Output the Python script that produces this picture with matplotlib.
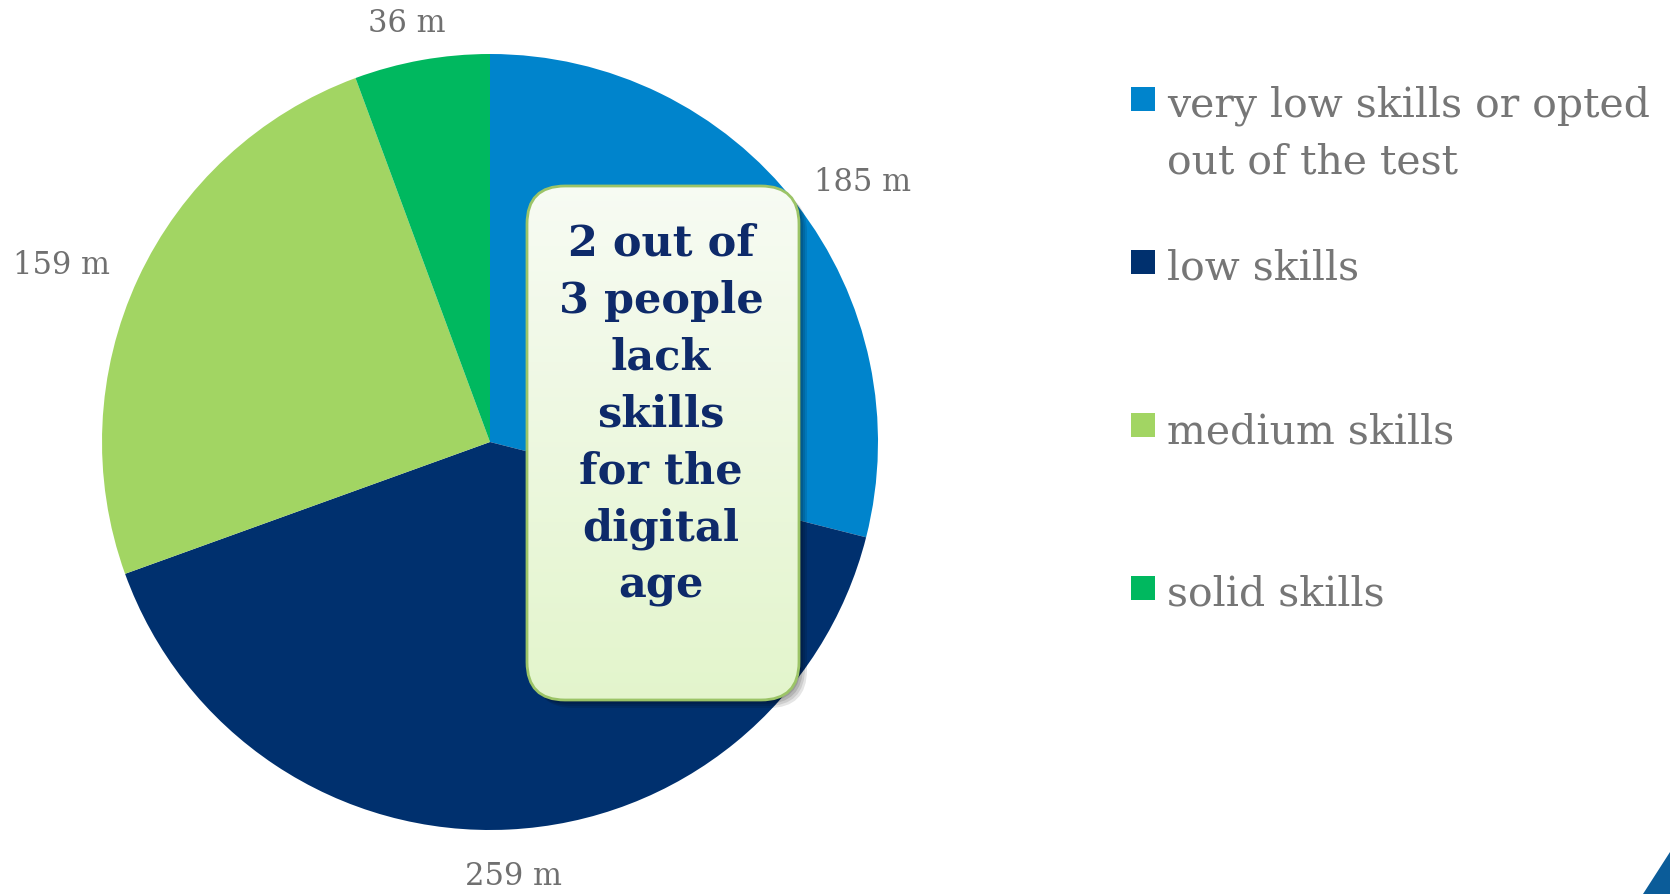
import numpy as np
import matplotlib.pyplot as plt
from matplotlib.patches import FancyBboxPatch, Rectangle, Polygon

# Adults by level of digital skills (millions)
categories = ['very low skills or opted\nout of the test', 'low skills',
              'medium skills', 'solid skills']
people_m = [185, 259, 159, 36]
value_labels = [f'{v} m' for v in people_m]
colors = ['#0084CC', '#00306E', '#A2D563', '#00B85F']
callout = '2 out of\n3 people\nlack\nskills\nfor the\ndigital\nage'

W, H = 1670, 894
fig = plt.figure(figsize=(W / 100, H / 100), dpi=100)
ax = fig.add_axes([0, 0, 1, 1])

# pie drawn in pixel-like data units
cx, cy, r = 490, 452, 388
wedges, _ = ax.pie(people_m, colors=colors, startangle=90, counterclock=False,
                   center=(cx, cy), radius=r, frame=True,
                   wedgeprops=dict(linewidth=0))
ax.set_xlim(0, W)
ax.set_ylim(0, H)
ax.set_aspect('equal')
ax.axis('off')

# value labels just outside each wedge
gap, hw, hh = 24, 60, 18
for w, lab in zip(wedges, value_labels):
    theta = np.deg2rad((w.theta1 + w.theta2) / 2)
    ux, uy = np.cos(theta), np.sin(theta)
    x = cx + (r + gap) * ux + hw * ux
    y = cy + (r + gap) * uy + hh * uy - 5
    ax.text(x, y, lab, ha='center', va='center', fontsize=22,
            family='DejaVu Serif', color='#707070')

# callout box with soft shadow and gradient fill
bx, by, bw, bh = 527, 194, 272, 514
for i, a in enumerate([0.10, 0.10, 0.12, 0.14]):
    off = 8 - i * 2
    sh = FancyBboxPatch((bx + off, by - off), bw, bh,
                        boxstyle='round,pad=0,rounding_size=38',
                        facecolor='black', edgecolor='none', alpha=a, zorder=3)
    ax.add_patch(sh)

box = FancyBboxPatch((bx, by), bw, bh, boxstyle='round,pad=0,rounding_size=38',
                     facecolor='none', edgecolor='#9CC467', linewidth=2, zorder=5)
ax.add_patch(box)
grad = np.linspace(0, 1, 256).reshape(-1, 1)
top = np.array([0.97, 0.985, 0.955])
bot = np.array([0.89, 0.96, 0.80])
img = top + (bot - top) * grad[:, :, None]
im = ax.imshow(img, extent=(bx, bx + bw, by, by + bh), origin='upper',
               aspect='auto', zorder=4)
im.set_clip_path(box)

ax.text(bx + bw / 2 - 2, 479, callout, ha='center', va='center', fontsize=31,
        fontweight='bold', family='DejaVu Serif', color='#0E2A6A',
        linespacing=1.45, zorder=6)

# legend drawn by hand: equal spacing between markers
lx, ly0, step, sq = 1131, 894 - 87, 163, 24
for i, (cat, col) in enumerate(zip(categories, colors)):
    ytop = ly0 - i * step
    ax.add_patch(Rectangle((lx, ytop - sq), sq, sq, facecolor=col,
                           edgecolor='none'))
    ax.text(lx + 36, ytop + 1, cat, ha='left', va='top', fontsize=29.5,
            family='DejaVu Serif', color='#767676', linespacing=1.52)

# corner accent
ax.add_patch(Polygon([(1643, 0), (1670, 0), (1670, 42)], closed=True,
                     facecolor='#0B5C99', edgecolor='none'))

fig.savefig('out.png', dpi=100)
